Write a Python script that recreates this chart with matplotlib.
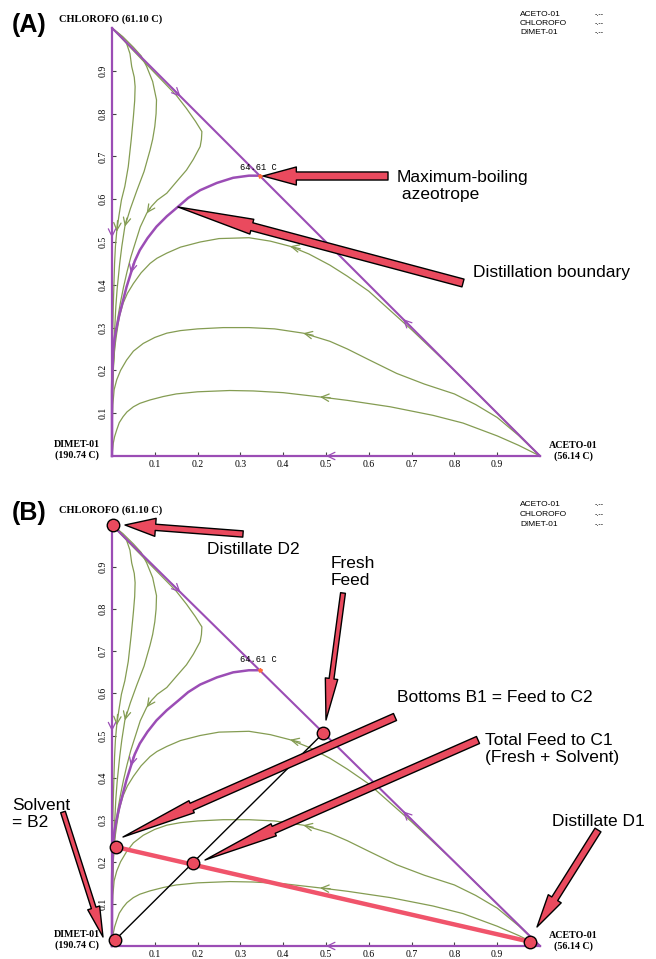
import matplotlib
matplotlib.use("Agg")
import matplotlib.pyplot as plt
from matplotlib.patches import FancyArrowPatch

W, H = 656, 959
PURPLE = "#9b4db5"
GREEN = "#849c52"
RED = "#ea4a5e"
LINE_RED = "#f0546b"
SERIF = "Liberation Serif"
SANS = "Liberation Sans"

# residue curves, x = acetone, y = chloroform (mole fractions)
# chloroform-corner region
curve_a_x = [0.0, 0.018, 0.034, 0.042, 0.046, 0.052, 0.054, 0.053, 0.05, 0.045, 0.038, 0.03,
             0.022, 0.016, 0.011, 0.008, 0.006, 0.003, 0.001, 0.0, 0.0]
curve_a_y = [1.0, 0.985, 0.964, 0.94, 0.91, 0.885, 0.863, 0.83, 0.793, 0.74, 0.676, 0.63,
             0.598, 0.56, 0.524, 0.49, 0.45, 0.35, 0.25, 0.1, 0.0]
curve_b_x = [0.0, 0.025, 0.05, 0.068, 0.081, 0.095, 0.104, 0.103, 0.1, 0.095, 0.089, 0.075,
             0.058, 0.043, 0.03, 0.023, 0.018, 0.012, 0.009, 0.004, 0.001, 0.0]
curve_b_y = [1.0, 0.98, 0.955, 0.935, 0.91, 0.875, 0.832, 0.8, 0.77, 0.74, 0.715, 0.665,
             0.62, 0.578, 0.536, 0.49, 0.45, 0.39, 0.35, 0.25, 0.15, 0.0]
curve_c_x = [0.0, 0.05, 0.1, 0.15, 0.174, 0.195, 0.21, 0.209, 0.206, 0.19, 0.174, 0.15, 0.128,
             0.106, 0.092, 0.081, 0.066, 0.055, 0.044, 0.035, 0.027, 0.02, 0.013, 0.008,
             0.003, 0.0, 0.0]
curve_c_y = [1.0, 0.947, 0.895, 0.843, 0.812, 0.782, 0.758, 0.74, 0.723, 0.693, 0.668, 0.64,
             0.614, 0.598, 0.583, 0.567, 0.535, 0.5, 0.465, 0.43, 0.395, 0.36, 0.32, 0.28,
             0.2, 0.1, 0.0]
# acetone-corner region
curve_d_x = [1.0, 0.9, 0.8, 0.7, 0.6, 0.55, 0.509, 0.46, 0.416, 0.37, 0.32, 0.25, 0.206,
             0.16, 0.128, 0.105, 0.089, 0.068, 0.05, 0.036, 0.026, 0.017, 0.011, 0.006,
             0.003, 0.001, 0.0, 0.0]
curve_d_y = [0.0, 0.1, 0.2, 0.295, 0.385, 0.42, 0.446, 0.472, 0.49, 0.502, 0.51, 0.508, 0.5,
             0.488, 0.474, 0.462, 0.45, 0.428, 0.403, 0.38, 0.357, 0.325, 0.287, 0.25,
             0.209, 0.15, 0.1, 0.0]
curve_e_x = [1.0, 0.95, 0.9, 0.85, 0.8, 0.73, 0.665, 0.6, 0.55, 0.509, 0.447, 0.38, 0.32,
             0.26, 0.2, 0.16, 0.128, 0.1, 0.073, 0.05, 0.034, 0.02, 0.011, 0.005, 0.002,
             0.0, 0.0]
curve_e_y = [0.0, 0.048, 0.09, 0.12, 0.145, 0.168, 0.193, 0.225, 0.25, 0.268, 0.287, 0.297,
             0.30, 0.30, 0.297, 0.293, 0.287, 0.277, 0.263, 0.245, 0.224, 0.2, 0.178, 0.155,
             0.12, 0.06, 0.0]
curve_f_x = [1.0, 0.95, 0.9, 0.82, 0.75, 0.65, 0.55, 0.486, 0.4, 0.33, 0.275, 0.2, 0.15,
             0.12, 0.089, 0.065, 0.05, 0.035, 0.026, 0.017, 0.011, 0.006, 0.003, 0.0]
curve_f_y = [0.0, 0.025, 0.047, 0.077, 0.095, 0.115, 0.13, 0.138, 0.148, 0.152, 0.153, 0.15,
             0.145, 0.139, 0.131, 0.123, 0.115, 0.103, 0.092, 0.078, 0.061, 0.045, 0.03, 0.0]
# distillation boundary, azeotrope -> DIMET
bound_x = [0.345, 0.32, 0.283, 0.245, 0.206, 0.178, 0.155, 0.128, 0.104, 0.083, 0.065, 0.053,
           0.044, 0.034, 0.026, 0.018, 0.011, 0.006, 0.003, 0.001, 0.0, 0.0]
bound_y = [0.655, 0.655, 0.65, 0.638, 0.621, 0.603, 0.583, 0.56, 0.536, 0.509, 0.481, 0.455,
           0.427, 0.395, 0.364, 0.333, 0.302, 0.275, 0.248, 0.2, 0.15, 0.0]
azeo_x, azeo_y = 0.345, 0.655

green_curves = [(curve_a_x, curve_a_y), (curve_b_x, curve_b_y), (curve_c_x, curve_c_y),
                (curve_d_x, curve_d_y), (curve_e_x, curve_e_y), (curve_f_x, curve_f_y)]

# direction marks (tail point, head point)
green_marks = [((0.013, 0.55), (0.011, 0.524)), ((0.035, 0.556), (0.030, 0.536)),
               ((0.09, 0.58), (0.081, 0.567)), ((0.44, 0.484), (0.416, 0.49)),
               ((0.47, 0.282), (0.447, 0.287)), ((0.51, 0.136), (0.486, 0.138))]
purple_marks = [((0.05, 0.45), (0.044, 0.427)), ((0.14, 0.86), (0.16, 0.84)),
                ((0.70, 0.30), (0.68, 0.32)), ((0.52, 0.0), (0.5, 0.0)),
                ((0.0, 0.53), (0.0, 0.51))]

ticks = [0.1, 0.2, 0.3, 0.4, 0.5, 0.6, 0.7, 0.8, 0.9]
tick_labels = ["0.1", "0.2", "0.3", "0.4", "0.5", "0.6", "0.7", "0.8", "0.9"]
components = ["ACETO-01", "CHLOROFO", "DIMET-01"]

# panel B stream compositions
D2 = (0.002, 1.0)
FRESH = (0.494, 0.506)
B1 = (0.01, 0.235)
MIX = (0.19, 0.197)
B2 = (0.007, 0.014)
D1 = (0.977, 0.01)


def fp(px, py):
    return (px / W, 1 - py / H)


def mark(ax, p0, p1, color):
    ax.annotate("", xy=p1, xytext=p0, annotation_clip=False,
                arrowprops=dict(arrowstyle="->,head_length=0.45,head_width=0.22",
                                color=color, lw=0.9, shrinkA=0, shrinkB=0,
                                mutation_scale=12))


def block_arrow(tail, tip, tw, hw, hl):
    fig.add_artist(FancyArrowPatch(
        posA=fp(*tail), posB=fp(*tip), transform=fig.transFigure,
        arrowstyle=f"simple,head_length={hl},head_width={hw},tail_width={tw}",
        mutation_scale=1, shrinkA=0, shrinkB=0, fc=RED, ec="black", lw=1.0))


def draw_map(ax, top_px, bot_px):
    ax.set_xlim(0, 1)
    ax.set_ylim(0, 1)
    for s in ["top", "right"]:
        ax.spines[s].set_visible(False)
    for s in ["left", "bottom"]:
        ax.spines[s].set_color(PURPLE)
        ax.spines[s].set_linewidth(1.6)
    ax.set_xticks(ticks)
    ax.set_xticklabels(tick_labels, family=SERIF, fontsize=7)
    ax.set_yticks(ticks)
    ax.set_yticklabels(tick_labels, family=SERIF, fontsize=7, rotation=90, va="center")
    ax.tick_params(direction="in", length=3, width=0.8, color="#444444", pad=3)
    ax.patch.set_alpha(0)

    for cx, cy in green_curves:
        ax.plot(cx, cy, color=GREEN, lw=0.9, clip_on=False)
    ax.plot([0, 1], [1, 0], color=PURPLE, lw=1.5, clip_on=False)
    ax.plot(bound_x, bound_y, color=PURPLE, lw=1.8, clip_on=False)
    ax.plot([azeo_x], [azeo_y], marker="*", color="#ff6a3a", ms=3, clip_on=False)
    for p0, p1 in green_marks:
        mark(ax, p0, p1, GREEN)
    for p0, p1 in purple_marks:
        mark(ax, p0, p1, PURPLE)

    # vertex and azeotrope labels
    fig.text(*fp(59, top_px - 9), "CHLOROFO (61.10 C)", family=SERIF, weight="bold",
             fontsize=7.5, va="center")
    fig.text(*fp(77, bot_px - 6), "DIMET-01\n(190.74 C)", family=SERIF, weight="bold",
             fontsize=7.2, ha="center", va="center", linespacing=1.15)
    fig.text(*fp(573, bot_px - 5), "ACETO-01\n(56.14 C)", family=SERIF, weight="bold",
             fontsize=7.2, ha="center", va="center", linespacing=1.15)
    fig.text(*fp(240, top_px + 140), "64.61 C", family="Liberation Mono", fontsize=6.3,
             va="center")
    # composition legend
    for i, name in enumerate(components):
        fig.text(*fp(520, top_px - 14 + 9.5 * i), name, family=SANS, fontsize=6,
                 va="center")
        fig.text(*fp(595, top_px - 14 + 9.5 * i), "-.--", family=SANS, fontsize=5,
                 va="center")


fig = plt.figure(figsize=(W / 100, H / 100), dpi=100)

# ---- panel A
axA = fig.add_axes([112 / W, 1 - 456 / H, 428 / W, 428 / H])
draw_map(axA, 28, 456)
fig.text(*fp(12, 25), "(A)", family=SANS, weight="bold", fontsize=18, va="center")
fig.text(*fp(397, 186), "Maximum-boiling\n azeotrope", family=SANS, fontsize=12.5,
         va="center", linespacing=1.2)
fig.text(*fp(473, 272), "Distillation boundary", family=SANS, fontsize=12.5, va="center")
block_arrow((388, 176), (263, 176), 5.8, 13, 24)
block_arrow((463, 283), (178, 207), 5.8, 11, 55)

# ---- panel B
axB = fig.add_axes([112 / W, 1 - 946 / H, 428 / W, 421 / H])
draw_map(axB, 519, 946)
axB.plot([B2[0], FRESH[0]], [B2[1], FRESH[1]], color="black", lw=1.0, clip_on=False)
axB.plot([B1[0], D1[0]], [B1[1], D1[1]], color=LINE_RED, lw=3.2, clip_on=False)
for p in [D2, FRESH, B1, MIX, B2, D1]:
    axB.plot([p[0]], [p[1]], "o", ms=9, mfc=RED, mec="black", mew=1.0, clip_on=False,
             zorder=5)
fig.text(*fp(12, 513), "(B)", family=SANS, weight="bold", fontsize=18, va="center")
fig.text(*fp(207, 550), "Distillate D2", family=SANS, fontsize=12.5, va="center")
fig.text(*fp(331, 572), "Fresh\nFeed", family=SANS, fontsize=12.5, va="center",
         linespacing=1.2)
fig.text(*fp(397, 697), "Bottoms B1 = Feed to C2", family=SANS, fontsize=12.5, va="center")
fig.text(*fp(485, 749), "Total Feed to C1\n(Fresh + Solvent)", family=SANS, fontsize=12.5,
         va="center", linespacing=1.2)
fig.text(*fp(12, 814), "Solvent\n= B2", family=SANS, fontsize=12.5, va="center",
         linespacing=1.2)
fig.text(*fp(552, 822), "Distillate D1", family=SANS, fontsize=12.5, va="center")
block_arrow((243, 534), (125, 525), 4.5, 13, 22)
block_arrow((343, 593), (326, 720), 3.5, 9, 30)
block_arrow((395, 717), (123, 837), 5.5, 9.5, 54)
block_arrow((478, 740), (205, 860), 5.5, 9.5, 54)
block_arrow((63, 812), (103, 937), 3.5, 9, 22)
block_arrow((598, 830), (537, 927), 5, 11, 24)

fig.savefig("out.png", dpi=100)
